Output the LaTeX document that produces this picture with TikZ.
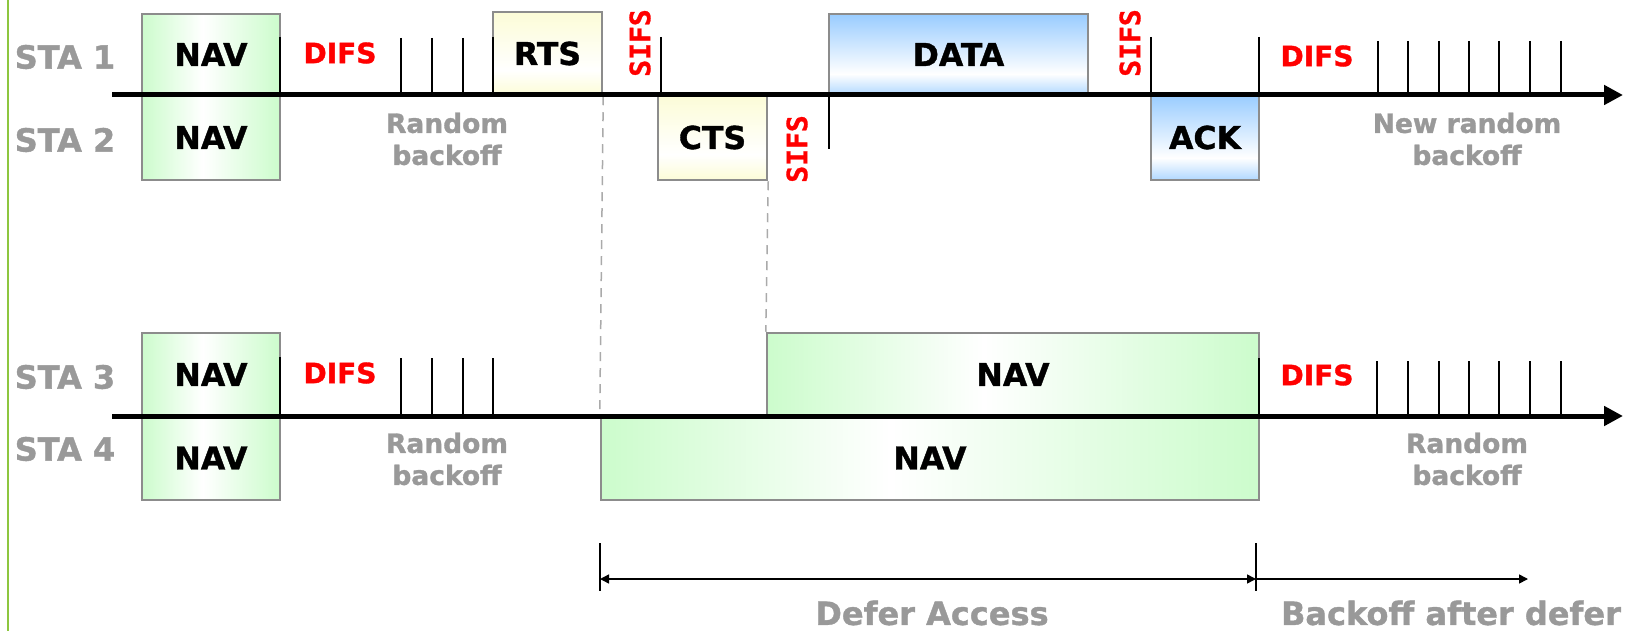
\documentclass[tikz,border=0pt]{standalone}
\usepackage{fontspec}
\setmainfont{DejaVu Sans}[BoldFeatures={FakeBold=1.2}]
\newfontfamily\monof{DejaVu Sans Mono}[BoldFeatures={FakeBold=1}]
\usetikzlibrary{arrows.meta}
\definecolor{navg}{RGB}{204,252,204}
\definecolor{datab}{RGB}{153,204,255}
\definecolor{databl}{RGB}{176,216,255}
\definecolor{rtsy}{RGB}{252,252,215}
\definecolor{bordg}{RGB}{140,140,140}
\definecolor{txtg}{RGB}{153,153,153}
\definecolor{guideg}{RGB}{170,170,170}
\definecolor{sideg}{RGB}{141,198,63}
\pgfdeclarehorizontalshading{navshade}{100bp}{color(0bp)=(navg); color(25bp)=(navg); color(47bp)=(white); color(75bp)=(navg); color(100bp)=(navg)}
\pgfdeclareverticalshading{datashade}{100bp}{color(0bp)=(databl); color(25bp)=(databl); color(38bp)=(white); color(75bp)=(datab); color(100bp)=(datab)}
\pgfdeclareverticalshading{rtsshade}{100bp}{color(0bp)=(rtsy); color(25bp)=(rtsy); color(40bp)=(white); color(75bp)=(rtsy); color(100bp)=(rtsy)}
\tikzset{
 box/.style={draw=bordg, line width=2.5pt, inner sep=0pt, font=\bfseries\fontsize{31.5}{36}\selectfont},
 navbox/.style={box, shading=navshade},
 databox/.style={box, shading=datashade},
 rtsbox/.style={box, shading=rtsshade},
 sta/.style={font=\bfseries\fontsize{32}{36}\selectfont, text=txtg},
 difs/.style={font=\bfseries\fontsize{28}{30}\selectfont, text=red},
 sifs/.style={font=\monof\bfseries\fontsize{28}{30}\selectfont, text=red, rotate=90},
 backoff/.style={font=\bfseries\fontsize{26.5}{32}\selectfont, text=txtg, align=center},
 defer/.style={font=\bfseries\fontsize{32}{36}\selectfont, text=txtg},
 axis/.style={line width=5pt, -{Triangle[length=19pt,width=19pt]}},
 tickline/.style={line width=1.5pt},
 guide/.style={draw=guideg, line width=1.5pt, dash pattern=on 9pt off 7pt},
 span/.style={line width=1.5pt},
}
\begin{document}
\begin{tikzpicture}[x=1pt,y=-1pt]
\useasboundingbox (0,0) rectangle (1629,631);
\fill[white] (0,0) rectangle (1629,631);
\draw[sideg, line width=2pt] (8,0) -- (8,631);

% station labels
\node[sta] (s1) at (65,57) {STA 1};
\node[sta] (s2) at (65,140) {STA 2};
\node[sta] (s3) at (65,377) {STA 3};
\node[sta] (s4) at (65,449) {STA 4};

% boxes
\node[navbox, minimum width=138pt, minimum height=81pt] (nav1) at (211,54.5) {NAV};
\node[navbox, minimum width=138pt, minimum height=85pt] (nav2) at (211,137.5) {NAV};
\node[rtsbox, minimum width=109pt, minimum height=83pt] (rts) at (547.5,53.5) {RTS};
\node[rtsbox, minimum width=109pt, minimum height=85pt] (cts) at (712.5,137.5) {CTS};
\node[databox, minimum width=259pt, minimum height=81pt] (data) at (958.5,54.5) {DATA};
\node[databox, minimum width=108pt, minimum height=85pt] (ack) at (1205,137.5) {ACK};
\node[navbox, minimum width=138pt, minimum height=83pt] (nav3) at (211,374.5) {NAV};
\node[navbox, minimum width=138pt, minimum height=84pt] (nav4) at (211,458) {NAV};
\node[navbox, minimum width=492pt, minimum height=83pt] (nav3l) at (1013,374.5) {NAV};
\node[navbox, minimum width=658pt, minimum height=84pt] (nav4l) at (930,458) {NAV};

% guide lines
\draw[guide] (rts.south east) -- (nav4l.north west);
\draw[guide] (cts.south east) -- (nav3l.north west);

% ticks
\foreach \x/\a/\b in {280/37/95, 401/38/95, 432/38/95, 463/38/95, 493/37/95, 661/37/95, 1151/37/95, 1259/37/95,
  1378/41/95, 1408/41/95, 1439/41/95, 1469/41/95, 1499/41/95, 1530/41/95, 1561/41/95, 829/95/149,
  280/357/416, 401/358/416, 432/358/416, 463/358/416, 493/358/416, 1259/358/416,
  1377/361/416, 1408/361/416, 1439/361/416, 1469/361/416, 1499/361/416, 1530/361/416, 1561/361/416}
  \draw[tickline] (\x,\a) -- (\x,\b);

% axes
\coordinate (a1s) at (112,95);
\coordinate (a1e) at (1623,95);
\coordinate (a2s) at (112,416);
\coordinate (a2e) at (1623,416);
\draw[axis] (a1s) -- (a1e);
\draw[axis] (a2s) -- (a2e);

% labels
\node[difs] (d1) at (340,53) {DIFS};
\node[difs] (d2) at (1317,56) {DIFS};
\node[difs] (d3) at (340,373) {DIFS};
\node[difs] (d4) at (1317,375) {DIFS};
\node[sifs] (si1) at (640,43) {SIFS};
\node[sifs] (si2) at (797,149) {SIFS};
\node[sifs] (si3) at (1130,43) {SIFS};
\node[backoff] (b1) at (447,139) {Random\\backoff};
\node[backoff] (b2) at (1467,139) {New random\\backoff};
\node[backoff] (b3) at (447,459) {Random\\backoff};
\node[backoff] (b4) at (1467,459) {Random\\backoff};

% defer spans
\coordinate (l1) at (600,543); \coordinate (l2) at (600,591);
\coordinate (m1) at (1256,543); \coordinate (m2) at (1256,591);
\coordinate (pl) at (600,579); \coordinate (pm) at (1256,579); \coordinate (pr) at (1528,579);
\draw[span] (l1) -- (l2);
\draw[span] (m1) -- (m2);
\draw[span, {Triangle[length=9pt,width=9pt]}-{Triangle[length=9pt,width=9pt]}] (pl) -- (pm);
\draw[span, -{Triangle[length=9pt,width=9pt]}] (pm) -- (pr);
\node[defer] (t1) at (932,613) {Defer Access};
\node[defer] (t2) at (1451,613) {Backoff after defer};
\end{tikzpicture}
\end{document}
